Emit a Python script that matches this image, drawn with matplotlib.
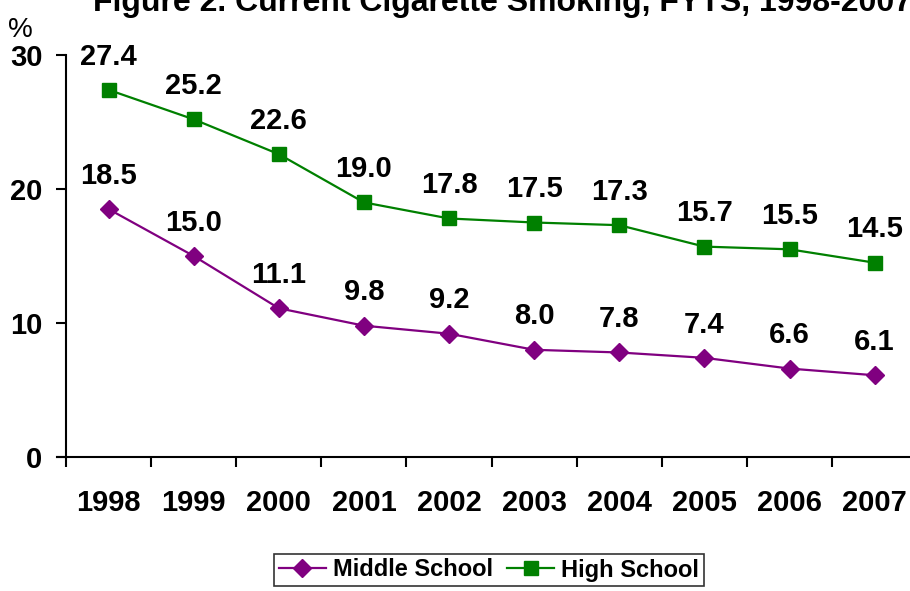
import matplotlib.pyplot as plt
import numpy as np

plt.rcParams['font.family'] = ['Liberation Sans', 'DejaVu Sans']

years = ['1998', '1999', '2000', '2001', '2002', '2003', '2004', '2005', '2006', '2007']
middle_school = [18.5, 15.0, 11.1, 9.8, 9.2, 8.0, 7.8, 7.4, 6.6, 6.1]
high_school = [27.4, 25.2, 22.6, 19.0, 17.8, 17.5, 17.3, 15.7, 15.5, 14.5]
y_ticks = [0, 10, 20, 30]

PURPLE = '#800080'
GREEN = '#008000'


def main() -> None:
    fig = plt.figure(figsize=(9.1, 5.91), dpi=100)
    ax = fig.add_axes([66 / 910, 1 - 457 / 591, 851.2 / 910, 402 / 591])

    x = np.arange(len(years))
    ax.plot(x, middle_school, color=PURPLE, lw=1.6, marker='D', ms=9.5,
            label='Middle School')
    ax.plot(x, high_school, color=GREEN, lw=1.6, marker='s', ms=10.5,
            label='High School')

    # value labels above each point
    for series in (middle_school, high_school):
        for xi, v in zip(x, series):
            ax.annotate(f'{v:.1f}', (xi, v), xytext=(0, 24), textcoords='offset points',
                        ha='center', va='center', fontsize=21, fontweight='bold')

    ax.set_xlim(-0.5, len(years) - 0.5)
    ax.set_ylim(0, 30)
    ax.set_xticks(x)
    ax.set_xticklabels(years, fontsize=21, fontweight='bold')
    ax.set_xticks(np.arange(len(years) + 1) - 0.5, minor=True)
    ax.tick_params(axis='x', which='major', length=0, pad=23)
    ax.tick_params(axis='x', which='minor', length=7, width=1.5, direction='out')
    ax.set_yticks(y_ticks)
    ax.set_yticklabels([str(t) for t in y_ticks], fontsize=21, fontweight='bold')
    ax.tick_params(axis='y', length=7, width=1.5, pad=10)

    for s in ('top', 'right'):
        ax.spines[s].set_visible(False)
    for s in ('left', 'bottom'):
        ax.spines[s].set_linewidth(1.5)
    ax.spines['bottom'].set_bounds(-0.5 - 9 / 85.1, 9.5)

    fig.text(20 / 910, 1 - 30 / 591, '%', ha='center', va='center', fontsize=20)
    fig.text(93 / 910, 1 - 11 / 591, 'Figure 2. Current Cigarette Smoking, FYTS, 1998-2007',
             ha='left', va='baseline', fontsize=23, fontweight='bold')

    leg = fig.legend(loc='center', bbox_to_anchor=(489 / 910, 1 - 570 / 591), ncol=2,
                     prop={'size': 17, 'weight': 'bold'}, frameon=True, fancybox=False,
                     handlelength=2.0, handletextpad=0.3, columnspacing=0.6,
                     borderpad=0.2, borderaxespad=0)
    leg.get_frame().set_edgecolor('black')
    leg.get_frame().set_linewidth(1.2)

    fig.savefig('out.png', dpi=100)


if __name__ == '__main__':
    main()
